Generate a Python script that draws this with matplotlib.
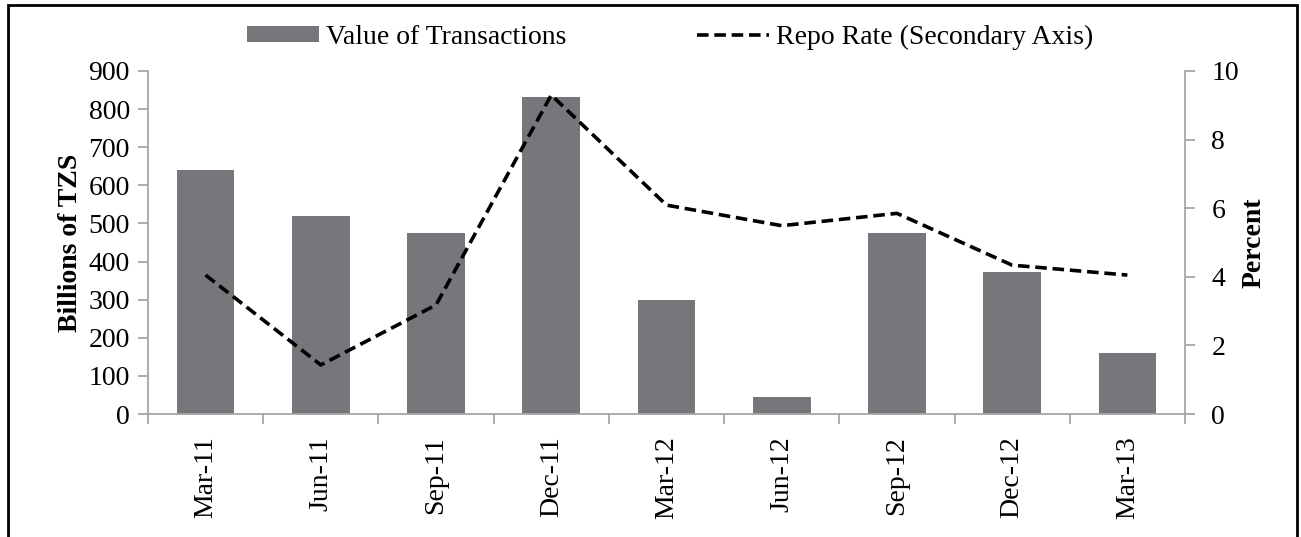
import matplotlib.pyplot as plt
from matplotlib.patches import Rectangle

# data
quarters = ["Mar-11", "Jun-11", "Sep-11", "Dec-11", "Mar-12", "Jun-12", "Sep-12", "Dec-12", "Mar-13"]
transactions = [640, 520, 474, 833, 298, 45, 474, 373, 159]
repo_rate = [4.05, 1.43, 3.18, 9.3, 6.09, 5.49, 5.85, 4.34, 4.05]

plt.rcParams['font.family'] = ['Liberation Serif', 'DejaVu Serif']
plt.rcParams['font.size'] = 20

bar_color = '#76777b'
axis_color = '#a6a6a6'

fig = plt.figure(figsize=(13.01, 5.37), dpi=100)
ax = fig.add_axes([148 / 1301, 1 - 414 / 537, (1185 - 148) / 1301, (414 - 71) / 537])
ax2 = ax.twinx()

x = list(range(len(quarters)))
bars = ax.bar(x, transactions, width=0.5, color=bar_color, zorder=2, label='Value of Transactions')
line, = ax2.plot(x, repo_rate, color='black', linestyle=(0, (3.2, 1.6)), linewidth=2.6,
                 label='Repo Rate (Secondary Axis)')

ax.set_xlim(-0.5, len(quarters) - 0.5)
ax.set_ylim(0, 900)
ax.set_yticks(range(0, 901, 100))
ax2.set_ylim(0, 10)
ax2.set_yticks(range(0, 11, 2))

ax.set_xticks(x)
ax.set_xticklabels(quarters, rotation=90)
ax.tick_params(axis='x', length=0, pad=16)
ax.set_xticks([i - 0.5 for i in range(len(quarters) + 1)], minor=True)
ax.tick_params(axis='x', which='minor', length=7, color=axis_color, width=1.3)
ax.tick_params(axis='y', length=7, color=axis_color, width=1.3, pad=6)
ax2.tick_params(axis='y', length=7, color=axis_color, width=1.3, pad=12)

for a in (ax, ax2):
    a.spines['top'].set_visible(False)
    for s in ('left', 'right', 'bottom'):
        a.spines[s].set_color(axis_color)
        a.spines[s].set_linewidth(1.3)
ax.spines['right'].set_visible(False)
ax2.spines['left'].set_visible(False)
ax2.spines['bottom'].set_visible(False)

ax.set_ylabel('Billions of TZS', fontweight='bold', labelpad=4)
ax2.set_ylabel('Percent', fontweight='bold', labelpad=2)

fig.legend(handles=[bars, line], loc='center', bbox_to_anchor=(670 / 1301, 1 - 37 / 537),
           ncol=2, frameon=False, handlelength=2.6, handleheight=0.5, columnspacing=4.7,
           handletextpad=0.25, borderaxespad=0)

# outer border of the chart
fig.patches.append(Rectangle((8 / 1301, -0.05), (1297 - 8) / 1301, 1 - 5 / 537 + 0.05,
                             transform=fig.transFigure, fill=False, edgecolor='black',
                             linewidth=2, zorder=10))

fig.savefig('out.png', dpi=100)
